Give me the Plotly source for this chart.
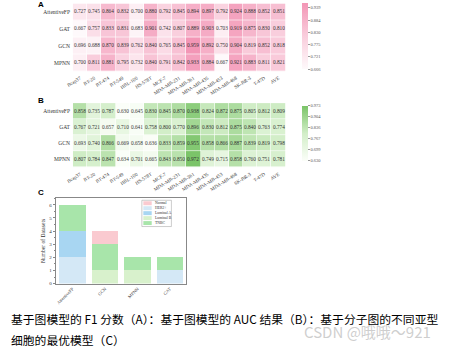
import plotly.graph_objects as go

W, H = 449, 351
def px_x(p): return p / W
def px_y(p): return 1 - p / H

models = ["AttentiveFP", "GAT", "GCN", "MPNN"]
cells = ["Bcap37", "BT-20", "BT-474", "BT-549", "HBL-100", "HS-578T", "MCF-7",
         "MDA-MB-231", "MDA-MB-361", "MDA-MB-435", "MDA-MB-453", "MDA-MB-468",
         "SK-BR-3", "T-47D", "AVE"]

f1_attentivefp = [0.727, 0.745, 0.864, 0.832, 0.700, 0.880, 0.792, 0.845, 0.894, 0.897, 0.792, 0.924, 0.888, 0.852, 0.851]
f1_gat = [0.667, 0.757, 0.833, 0.831, 0.683, 0.901, 0.742, 0.807, 0.889, 0.903, 0.703, 0.919, 0.875, 0.830, 0.810]
f1_gcn = [0.696, 0.688, 0.870, 0.839, 0.762, 0.840, 0.765, 0.845, 0.959, 0.892, 0.750, 0.904, 0.819, 0.852, 0.818]
f1_mpnn = [0.700, 0.811, 0.881, 0.795, 0.732, 0.840, 0.791, 0.842, 0.933, 0.884, 0.667, 0.921, 0.883, 0.811, 0.821]
f1_ticks = [0.666, 0.721, 0.775, 0.830, 0.884, 0.939]

auc_attentivefp = [0.858, 0.735, 0.787, 0.630, 0.645, 0.830, 0.845, 0.870, 0.938, 0.824, 0.872, 0.875, 0.805, 0.812, 0.809]
auc_gat = [0.767, 0.721, 0.657, 0.710, 0.641, 0.758, 0.800, 0.770, 0.896, 0.830, 0.812, 0.875, 0.840, 0.763, 0.774]
auc_gcn = [0.693, 0.740, 0.866, 0.669, 0.658, 0.636, 0.833, 0.859, 0.955, 0.858, 0.866, 0.887, 0.839, 0.819, 0.798]
auc_mpnn = [0.807, 0.784, 0.847, 0.634, 0.701, 0.665, 0.843, 0.850, 0.972, 0.749, 0.715, 0.858, 0.760, 0.751, 0.781]
auc_ticks = [0.630, 0.699, 0.767, 0.836, 0.904, 0.973]

bar_models = ["AttentiveFP", "GCN", "MPNN", "GAT"]
subtypes = ["HER2+", "Luminal A", "Luminal B", "TNBC", "Normal"]
counts = {
    "HER2+":     [2, 0, 0, 1],
    "Luminal A": [2, 0, 0, 0],
    "Luminal B": [0, 1, 1, 0],
    "TNBC":      [2, 2, 1, 1],
    "Normal":    [0, 1, 0, 0],
}
legend_order = ["Normal", "HER2+", "Luminal A", "Luminal B", "TNBC"]
colors = {
    "Normal": "rgb(250,202,208)",
    "HER2+": "rgb(212,232,246)",
    "Luminal A": "rgb(168,214,242)",
    "Luminal B": "rgb(216,241,204)",
    "TNBC": "rgb(168,229,170)",
}

caption1 = "基于图模型的 F1 分数（A）：基于图模型的 AUC 结果（B）：基于分子图的不同亚型"
caption2 = "细胞的最优模型（C）"
watermark = "CSDN @哦哦～921"

SERIF = "Liberation Serif"
fig = go.Figure()

pink = [[0, "rgb(254,249,251)"], [0.5, "rgb(249,205,220)"], [1, "rgb(243,150,182)"]]
green = [[0, "rgb(251,254,249)"], [0.5, "rgb(210,238,200)"], [1, "rgb(122,196,104)"]]

def heat(z, xa, ya, cs, ticks, cb_top, cb_bot):
    zmin, zmax = min(ticks), max(ticks)
    return go.Heatmap(
        z=z, x=cells, y=models, xaxis=xa, yaxis=ya,
        colorscale=cs, zmin=zmin, zmax=max(zmax, max(max(r) for r in z)),
        texttemplate="%{z:.3f}", textfont=dict(size=5.3, family=SERIF, color="#333"),
        xgap=0.6, ygap=0.6,
        colorbar=dict(x=px_x(300), xanchor="left", y=px_y((cb_top + cb_bot) / 2), yanchor="middle",
                      len=(cb_bot - cb_top) / H, thickness=6, outlinewidth=0,
                      tickvals=ticks, ticktext=[f"{t:.3f}" for t in ticks],
                      tickfont=dict(size=4.5, family=SERIF, color="#555"),
                      ticks="outside", ticklen=2, tickcolor="#999", xpad=0, ypad=0),
        hoverinfo="skip",
    )

fig.add_trace(heat([f1_attentivefp, f1_gat, f1_gcn, f1_mpnn], "x", "y", pink, f1_ticks, 3, 70))
fig.add_trace(heat([auc_attentivefp, auc_gat, auc_gcn, auc_mpnn], "x2", "y2", green, auc_ticks, 107, 162))

for s in subtypes:
    fig.add_trace(go.Bar(x=bar_models, y=counts[s], name=s, marker=dict(color=colors[s], line=dict(width=0)),
                         xaxis="x3", yaxis="y3", showlegend=False))

hx = [px_x(67), px_x(283)]
ax_heat_x = dict(showgrid=False, zeroline=False, tickangle=-32, ticks="",
                 tickfont=dict(size=5, family=SERIF, color="#333"), ticklabelstandoff=2)
ax_heat_y = dict(showgrid=False, zeroline=False, autorange="reversed", ticks="",
                 tickfont=dict(size=5.5, family=SERIF, color="#333"), ticklabelstandoff=2)

fig.update_layout(
    width=W, height=H, margin=dict(l=0, r=0, t=0, b=0),
    paper_bgcolor="white", plot_bgcolor="white",
    barmode="stack", bargap=0.18,
    xaxis=dict(domain=hx, anchor="y", **ax_heat_x),
    yaxis=dict(domain=[px_y(72), px_y(3.5)], anchor="x", **ax_heat_y),
    xaxis2=dict(domain=hx, anchor="y2", **ax_heat_x),
    yaxis2=dict(domain=[px_y(169), px_y(104)], anchor="x2", **ax_heat_y),
    xaxis3=dict(domain=[px_x(50), px_x(182)], anchor="y3", showline=True, mirror=True,
                linecolor="#888", linewidth=0.8, showgrid=False, tickangle=-45, ticks="",
                tickfont=dict(size=4.5, family=SERIF, color="#333")),
    yaxis3=dict(domain=[px_y(286), px_y(200)], anchor="x3", range=[0, 6.5], dtick=1,
                showline=True, mirror=True, linecolor="#888", linewidth=0.8, showgrid=False,
                zeroline=False, ticks="outside", ticklen=2.5, tickcolor="#888",
                minor=dict(ticks="outside", ticklen=1.5, dtick=0.5, tickcolor="#888"),
                tickfont=dict(size=5, family=SERIF, color="#333"),
                title=dict(text="Number of Datasets", font=dict(size=5.5, family=SERIF, color="#333"), standoff=3)),
    showlegend=False,
)

# panel labels
for lab, yy in [("A", 5), ("B", 101), ("C", 194)]:
    fig.add_annotation(text=f"<b>{lab}</b>", x=px_x(29), y=px_y(yy), xref="paper", yref="paper",
                       xanchor="left", yanchor="middle", showarrow=False,
                       font=dict(size=8, family="Liberation Sans", color="black"))

# custom legend
lx0, lx1, ly0 = 137, 167, 202
item_h = 5.0
fig.add_shape(type="rect", xref="paper", yref="paper", x0=px_x(lx0), x1=px_x(lx1),
              y0=px_y(ly0 + item_h * len(legend_order) + 1.5), y1=px_y(ly0),
              line=dict(color="#aaa", width=0.6), fillcolor="white")
for i, s in enumerate(legend_order):
    yc = ly0 + 3 + i * item_h
    fig.add_shape(type="rect", xref="paper", yref="paper", x0=px_x(lx0 + 1.5), x1=px_x(lx0 + 10),
                  y0=px_y(yc + 2), y1=px_y(yc - 2), line=dict(width=0), fillcolor=colors[s])
    fig.add_annotation(text=s, x=px_x(lx0 + 11), y=px_y(yc), xref="paper", yref="paper",
                       xanchor="left", yanchor="middle", showarrow=False,
                       font=dict(size=3.8, family=SERIF, color="#333"))

# caption
fig.add_annotation(text=caption1, x=px_x(2), y=px_y(321), xref="paper", yref="paper",
                   xanchor="left", yanchor="middle", showarrow=False,
                   font=dict(size=11.8, family="Noto Sans CJK SC", color="black"))
fig.add_annotation(text=caption2, x=px_x(2), y=px_y(342), xref="paper", yref="paper",
                   xanchor="left", yanchor="middle", showarrow=False,
                   font=dict(size=11.8, family="Noto Sans CJK SC", color="black"))
fig.add_annotation(text=watermark, x=px_x(433), y=px_y(334), xref="paper", yref="paper",
                   xanchor="right", yanchor="middle", showarrow=False,
                   font=dict(size=15, family="Noto Sans CJK SC", color="rgba(190,190,190,0.75)"))

fig.write_html("out.html")
